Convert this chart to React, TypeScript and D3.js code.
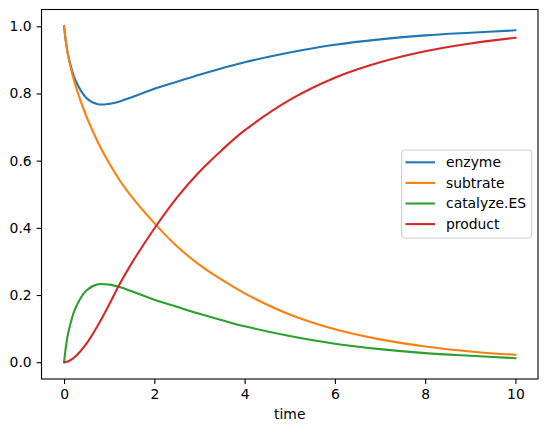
import { useEffect, useRef } from 'react';
import * as d3 from 'd3';

// time samples and the four concentrations
const time = [0, 0.05, 0.1, 0.25, 0.5, 0.75, 1, 1.25, 1.5, 2, 2.5, 3, 3.5, 4, 5, 6, 7, 8, 9, 10];
const enzyme = [1, 0.945, 0.908, 0.84, 0.786, 0.768, 0.769, 0.777, 0.789, 0.814, 0.835, 0.856, 0.875, 0.893, 0.922, 0.945, 0.961, 0.973, 0.981, 0.988];
const subtrate = [1, 0.944, 0.905, 0.825, 0.73, 0.655, 0.592, 0.538, 0.492, 0.414, 0.345, 0.29, 0.245, 0.205, 0.142, 0.098, 0.068, 0.047, 0.032, 0.022];
const catalyzeES = [0, 0.055, 0.092, 0.16, 0.214, 0.232, 0.231, 0.223, 0.211, 0.186, 0.165, 0.144, 0.125, 0.107, 0.078, 0.055, 0.039, 0.027, 0.019, 0.012];
const product = [0, 0.001, 0.003, 0.017, 0.056, 0.11, 0.172, 0.237, 0.295, 0.398, 0.49, 0.567, 0.632, 0.69, 0.781, 0.847, 0.893, 0.926, 0.949, 0.966];

const seriesNames = ['enzyme', 'subtrate', 'catalyze.ES', 'product'];
const seriesValues = [enzyme, subtrate, catalyzeES, product];
const colors = ['#1f77b4', '#ff7f0e', '#2ca02c', '#d62728'];

const xTicks = [0, 2, 4, 6, 8, 10];
const yTicks = [0, 0.2, 0.4, 0.6, 0.8, 1.0];

const W = 547;
const H = 432;
const left = 41.5, right = 538, top = 9.5, bottom = 379;
const FONT = 'DejaVu Sans, sans-serif';

export default function App() {
    const ref = useRef<SVGSVGElement>(null);

    useEffect(() => {
        const svg = d3.select(ref.current);
        svg.selectAll('*').remove();

        // matplotlib style 5% margins
        const x = d3.scaleLinear().domain([-0.5, 10.5]).range([left, right]);
        const y = d3.scaleLinear().domain([-0.05, 1.05]).range([bottom, top]);

        svg.append('rect').attr('width', W).attr('height', H).attr('fill', 'white');

        const line = d3.line<number>()
            .x((d, i) => x(time[i]))
            .y(d => y(d))
            .curve(d3.curveCatmullRom.alpha(0.5));

        const plot = svg.append('g');
        seriesValues.forEach((vals, k) => {
            plot.append('path')
                .attr('d', line(vals))
                .attr('fill', 'none')
                .attr('stroke', colors[k])
                .attr('stroke-width', 2.08)
                .attr('stroke-linecap', 'square');
        });

        // axes
        const xAxis = d3.axisBottom(x).tickValues(xTicks).tickFormat(d3.format('d')).tickSize(4.9).tickPadding(4.9);
        const yAxis = d3.axisLeft(y).tickValues(yTicks).tickFormat(d3.format('.1f')).tickSize(4.9).tickPadding(4.9);

        const gx = svg.append('g').attr('transform', `translate(0,${bottom})`).call(xAxis);
        const gy = svg.append('g').attr('transform', `translate(${left},0)`).call(yAxis);
        [gx, gy].forEach(g => {
            g.select('.domain').remove();
            g.selectAll('line').attr('stroke', 'black').attr('stroke-width', 1.1);
            g.selectAll('text').attr('font-family', FONT).attr('font-size', 13.9).attr('fill', 'black');
        });

        // frame
        svg.append('rect')
            .attr('x', left).attr('y', top)
            .attr('width', right - left).attr('height', bottom - top)
            .attr('fill', 'none').attr('stroke', 'black').attr('stroke-width', 1.1);

        svg.append('text')
            .attr('x', (left + right) / 2).attr('y', 419)
            .attr('text-anchor', 'middle')
            .attr('font-family', FONT).attr('font-size', 13.9)
            .text('time');

        // legend
        const lg = svg.append('g');
        lg.append('rect')
            .attr('x', 401.7).attr('y', 150)
            .attr('width', 130).attr('height', 88)
            .attr('rx', 3)
            .attr('fill', 'white').attr('fill-opacity', 0.8)
            .attr('stroke', '#cccccc').attr('stroke-width', 1);
        seriesNames.forEach((name, k) => {
            const yy = 162.3 + k * 20.6;
            lg.append('line')
                .attr('x1', 405.5).attr('x2', 435)
                .attr('y1', yy).attr('y2', yy)
                .attr('stroke', colors[k]).attr('stroke-width', 2.08);
            lg.append('text')
                .attr('x', 446).attr('y', yy)
                .attr('dy', '0.35em')
                .attr('font-family', FONT).attr('font-size', 13.9)
                .text(name);
        });
    }, []);

    return (
        <svg
            ref={ref}
            width={W}
            height={H}
            style={{ position: 'absolute', left: 0, top: 0 }}
        />
    );
}
